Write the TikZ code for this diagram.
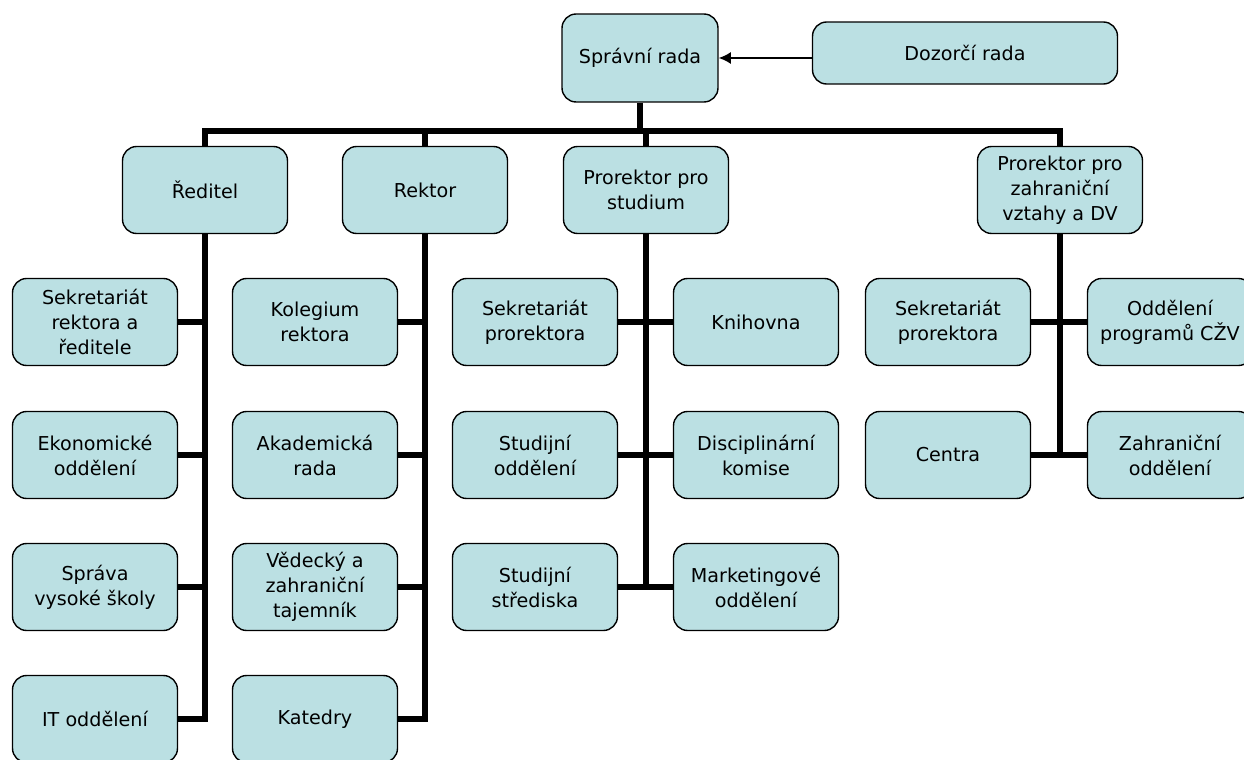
\documentclass[tikz,border=0pt]{standalone}
\usepackage{fontspec}
\setmainfont{DejaVu Sans}
\definecolor{BoxBlue}{RGB}{187,224,227}
\usetikzlibrary{positioning,arrows.meta,calc}
\tikzset{>={Latex[length=7pt,width=7pt]}}
\begin{document}
\begin{tikzpicture}[x=0.02cm,y=-0.02cm,
    unit/.style={draw=black,line width=0.8pt,fill=BoxBlue,rounded corners=8pt,
        align=center,minimum width=3.3cm,minimum height=1.74cm,inner sep=2pt,
        font=\fontsize{10.9}{14.2}\selectfont},
    link/.style={line width=3.6pt,line join=miter}]
        \useasboundingbox (0,0) rectangle (1244,760);
        % top level
        \node[unit,minimum width=3.12cm,minimum height=1.76cm] at (640,58) (sprava) {Správní rada};
        \node[unit,minimum width=6.1cm,minimum height=1.24cm] at (965,53) (dozor) {Dozorčí rada};
        % second level
        \node[unit] at (205,190) (reditel) {Ředitel};
        \node[unit] at (425,190) (rektor) {Rektor};
        \node[unit] at (646,190) (studium) {Prorektor pro\\studium};
        \node[unit] at (1060,190) (zahr) {Prorektor pro\\zahraniční\\vztahy a DV};
        % Reditel
        \node[unit] at (95,322) (sekrR) {Sekretariát\\rektora a\\ředitele};
        \node[unit] at (95,455) (ekon) {Ekonomické\\oddělení};
        \node[unit] at (95,587) (sprvs) {Správa\\vysoké školy};
        \node[unit] at (95,719) (it) {IT oddělení};
        % Rektor
        \node[unit] at (315,322) (kolegium) {Kolegium\\rektora};
        \node[unit] at (315,455) (akad) {Akademická\\rada};
        \node[unit] at (315,587) (vedecky) {Vědecký a\\zahraniční\\tajemník};
        \node[unit] at (315,719) (katedry) {Katedry};
        % Prorektor pro studium
        \node[unit] at (535,322) (sekrS) {Sekretariát\\prorektora};
        \node[unit] at (535,455) (studOdd) {Studijní\\oddělení};
        \node[unit] at (535,587) (strediska) {Studijní\\střediska};
        \node[unit] at (756,322) (knihovna) {Knihovna};
        \node[unit] at (756,455) (komise) {Disciplinární\\komise};
        \node[unit] at (756,587) (marketing) {Marketingové\\oddělení};
        % Prorektor pro zahranicni vztahy
        \node[unit] at (948,322) (sekrZ) {Sekretariát\\prorektora};
        \node[unit] at (948,455) (centra) {Centra};
        \node[unit] at (1170,322) (czv) {Oddělení\\programů CŽV};
        \node[unit] at (1170,455) (zahrOdd) {Zahraniční\\oddělení};
        \coordinate (bus) at (640,131);
        \begin{scope}[on background layer/.try]
            \draw[->,line width=1.1pt] (dozor.west |- sprava.east) -- (sprava.east);
            \draw[link] (sprava.south) -- (bus);
            \draw[link] (reditel.north) |- (zahr.north |- bus) -- (zahr.north);
            \draw[link] (rektor.north) -- (rektor.north |- bus);
            \draw[link] (studium.north) -- (studium.north |- bus);
            % branches
            \draw[link] (reditel.south) -- (reditel.south |- it.east) -- (it.east);
            \foreach \n in {sekrR,ekon,sprvs} \draw[link] (\n.east) -- (\n.east -| reditel.south);
            \draw[link] (rektor.south) -- (rektor.south |- katedry.east) -- (katedry.east);
            \foreach \n in {kolegium,akad,vedecky} \draw[link] (\n.east) -- (\n.east -| rektor.south);
            \draw[link] (studium.south) -- (studium.south |- strediska.east);
            \foreach \n in {sekrS,studOdd,strediska} \draw[link] (\n.east) -- (\n.east -| studium.south);
            \foreach \n in {knihovna,komise,marketing} \draw[link] (\n.west) -- (\n.west -| studium.south);
            \draw[link] (zahr.south) -- (zahr.south |- centra.east);
            \foreach \n in {sekrZ,centra} \draw[link] (\n.east) -- (\n.east -| zahr.south);
            \foreach \n in {czv,zahrOdd} \draw[link] (\n.west) -- (\n.west -| zahr.south);
        \end{scope}
    \end{tikzpicture}
\end{document}
